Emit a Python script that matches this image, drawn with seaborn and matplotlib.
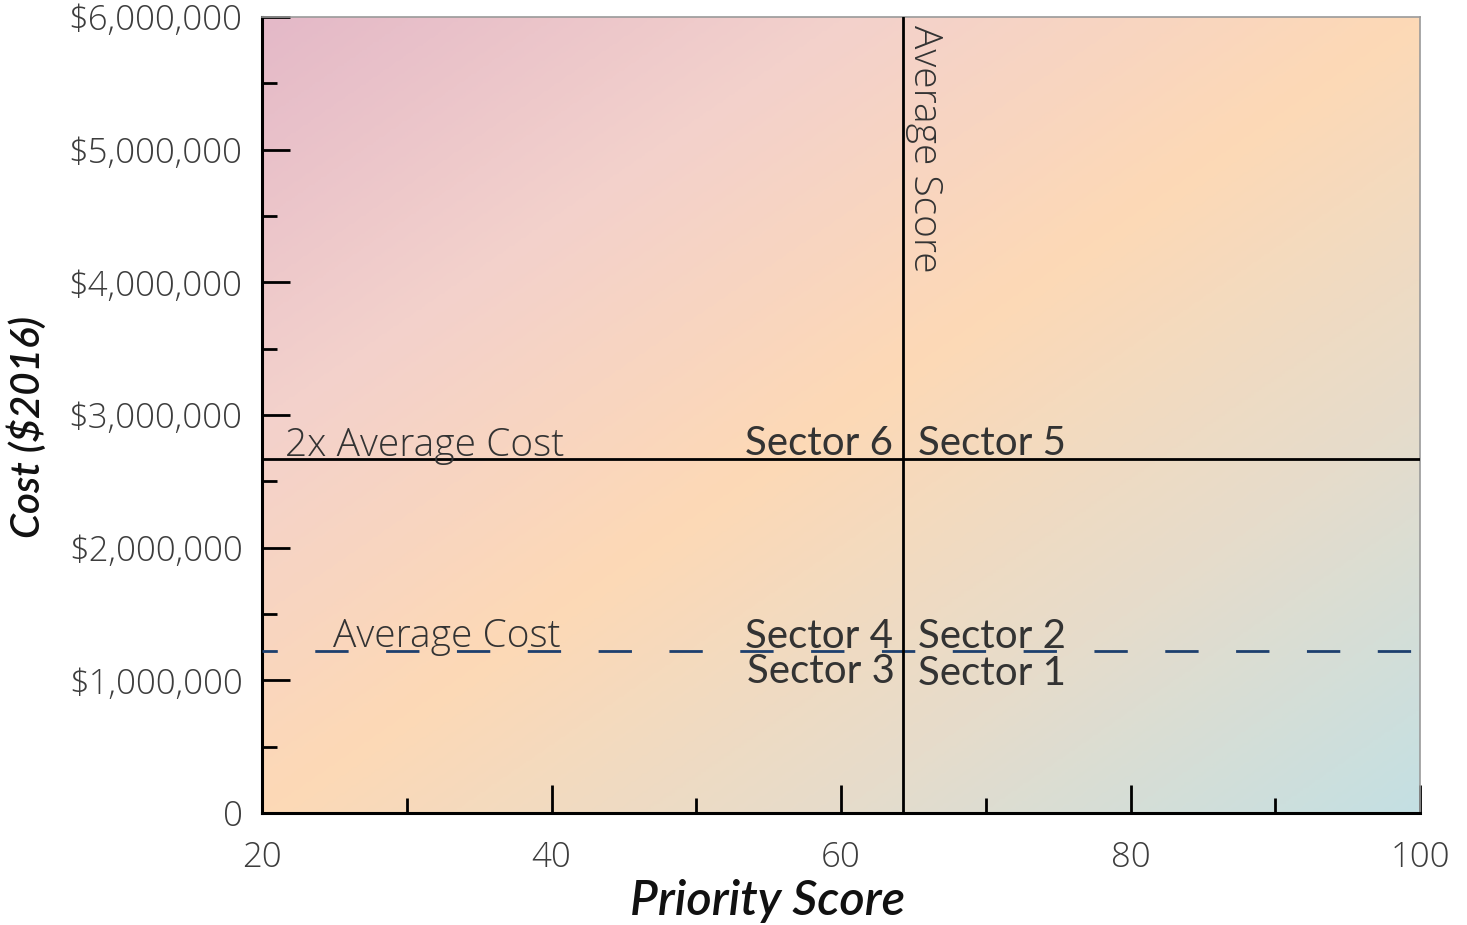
import numpy as np
import matplotlib
matplotlib.use("Agg")
import matplotlib.pyplot as plt
from matplotlib.colors import LinearSegmentedColormap
from matplotlib.ticker import FixedLocator, MultipleLocator
import seaborn as sns

# ---- data ----
x_ticks = [20, 40, 60, 80, 100]
x_tick_labels = ["20", "40", "60", "80", "100"]
y_ticks = [0, 1_000_000, 2_000_000, 3_000_000, 4_000_000, 5_000_000, 6_000_000]
y_tick_labels = ["0", "$1,000,000", "$2,000,000", "$3,000,000",
                 "$4,000,000", "$5,000,000", "$6,000,000"]
average_score = 64.3
average_cost = 1_220_000
double_avg_cost = 2_670_000
x_range = [20, 100]
y_range = [0, 6_000_000]
bg_colors = ["#e4b9c8", "#f3d1cc", "#fdd9b6", "#e6dccb", "#c4e0e3"]

sns.set_style("white")
plt.rcParams['font.family'] = ['Lato', 'DejaVu Sans']
LIGHT = ['Open Sans', 'DejaVu Sans']

fig = plt.figure(figsize=(14.67, 9.25), dpi=100)
ax = fig.add_axes([262/1467, 1 - 813/925, (1420-262)/1467, (813-17)/925])

# background gradient
cmap = LinearSegmentedColormap.from_list("bg", bg_colors)
u = np.linspace(0, 1, 400)
v = np.linspace(1, 0, 300)
U, V = np.meshgrid(u, v)
T = (U - V + 1) / 2
ax.imshow(T, cmap=cmap, extent=[x_range[0], x_range[1], y_range[0], y_range[1]],
          aspect='auto', zorder=0, vmin=0, vmax=1, interpolation='bilinear')

# reference lines
sns.lineplot(x=x_range, y=[double_avg_cost]*2, ax=ax, color='black', lw=2,
             estimator=None, zorder=3)
sns.lineplot(x=x_range, y=[average_cost]*2, ax=ax, color='#1d3f6e', lw=2,
             estimator=None, zorder=3)
ax.lines[-1].set_linestyle((6.5, (12, 13.5)))
ax.axvline(average_score, color='black', lw=2, zorder=3)

ax.set_xlim(*x_range)
ax.set_ylim(*y_range)

# texts
tc = '#333333'
ax.text(21.6, 2_690_000, "2x Average Cost", fontsize=28, color=tc, family=LIGHT,
        fontweight='light', va='baseline', ha='left', zorder=4)
ax.text(24.9, 1_250_000, "Average Cost", fontsize=28, color=tc, family=LIGHT,
        fontweight='light', va='baseline', ha='left', zorder=4)
ax.text(64.45, 5_940_000, "Average Score", fontsize=28, color=tc, family=LIGHT,
        fontweight='light', rotation=270, va='top', ha='left', zorder=4)
sec_fs = 29
ax.text(63.6, 2_700_000, "Sector 6", fontsize=sec_fs, color=tc, ha='right', va='baseline', zorder=4)
ax.text(65.3, 2_700_000, "Sector 5", fontsize=sec_fs, color=tc, ha='left', va='baseline', zorder=4)
ax.text(63.6, 1_245_000, "Sector 4", fontsize=sec_fs, color=tc, ha='right', va='baseline', zorder=4)
ax.text(65.3, 1_245_000, "Sector 2", fontsize=sec_fs, color=tc, ha='left', va='baseline', zorder=4)
ax.text(63.7, 980_000, "Sector 3", fontsize=sec_fs, color=tc, ha='right', va='baseline', zorder=4)
ax.text(65.3, 965_000, "Sector 1", fontsize=sec_fs, color=tc, ha='left', va='baseline', zorder=4)

# ticks
ax.xaxis.set_major_locator(FixedLocator(x_ticks))
ax.set_xticklabels(x_tick_labels)
ax.xaxis.set_minor_locator(MultipleLocator(10))
ax.yaxis.set_major_locator(FixedLocator(y_ticks))
ax.set_yticklabels(y_tick_labels)
ax.yaxis.set_minor_locator(MultipleLocator(500_000))
ax.tick_params(axis='both', which='major', direction='in', length=20, width=2,
               color='black', labelsize=25, labelcolor='#3d3d3d')
ax.tick_params(axis='both', which='minor', direction='in', length=11, width=2,
               color='black')
ax.tick_params(axis='x', which='both', pad=20, top=False, bottom=True)
ax.tick_params(axis='y', which='both', pad=14, left=True, right=False)
for lbl in ax.get_xticklabels() + ax.get_yticklabels():
    lbl.set_family(LIGHT)
    lbl.set_fontweight('light')

for s in ['left', 'bottom']:
    ax.spines[s].set_color('black')
    ax.spines[s].set_linewidth(2.2)
for s in ['top', 'right']:
    ax.spines[s].set_color('#9a9a9a')
    ax.spines[s].set_linewidth(1.2)

ax.set_xlabel("Priority Score", fontsize=35, fontstyle='italic', fontweight='semibold',
              color='#111111')
ax.xaxis.set_label_coords(0.437, -0.083)
ax.set_ylabel("Cost ($2016)", fontsize=29, fontstyle='italic', fontweight='semibold',
              color='#111111')
ax.yaxis.set_label_coords(-0.186, 0.485)

fig.savefig("out.png", dpi=100)
